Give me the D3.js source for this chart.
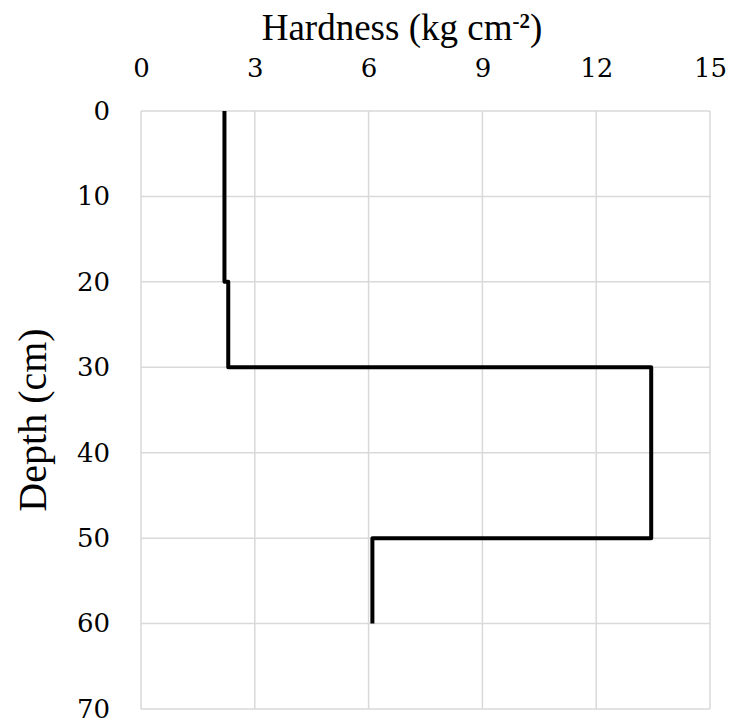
<!DOCTYPE html>
<html lang="en">
  <head>
    <meta charset="UTF-8" />
    <script src="https://d3js.org/d3.v7.min.js"></script>
    <title>Hardness vs Depth</title>
    <style type="text/css">
      body { margin: 0; background: #fff; }
      .tick text { font-family: 'DejaVu Serif', serif; font-size: 26px; fill: #000; }
      .ttl { font-family: 'Liberation Serif', 'Times New Roman', serif; fill: #000; }
    </style>
  </head>
  <body>
    <svg width="731" height="723"></svg>
  </body>
  <script type="text/javascript">
    // data: hardness profile (step line)
    const hardness = [2.2, 2.2, 2.3, 2.3, 13.45, 13.45, 6.1, 6.1];
    const depth = [0, 20, 20, 30, 30, 50, 50, 60];
    const xTicks = [0, 3, 6, 9, 12, 15];
    const yTicks = [0, 10, 20, 30, 40, 50, 60, 70];

    const svg = d3.select('svg');
    const margin = { top: 111, right: 21, bottom: 14, left: 141 };
    const width = +svg.attr('width') - margin.left - margin.right;
    const height = +svg.attr('height') - margin.top - margin.bottom;

    const xScale = d3.scaleLinear().domain([0, 15]).range([0, width]);
    const yScale = d3.scaleLinear().domain([0, 70]).range([0, height]);

    const g = svg.append('g').attr('transform', `translate(${margin.left}, ${margin.top})`);

    // gridlines
    g.append('g')
      .selectAll('line')
      .data(xTicks)
      .join('line')
      .attr('x1', (d) => xScale(d))
      .attr('x2', (d) => xScale(d))
      .attr('y1', 0)
      .attr('y2', height)
      .attr('stroke', '#d9d9d9')
      .attr('stroke-width', 1.5);

    g.append('g')
      .selectAll('line')
      .data(yTicks)
      .join('line')
      .attr('x1', 0)
      .attr('x2', width)
      .attr('y1', (d) => yScale(d))
      .attr('y2', (d) => yScale(d))
      .attr('stroke', '#d9d9d9')
      .attr('stroke-width', 1.5);

    // axes (labels only)
    const xAxis = g.append('g')
      .call(d3.axisTop(xScale).tickValues(xTicks).tickSize(0).tickPadding(34));
    const yAxis = g.append('g')
      .call(d3.axisLeft(yScale).tickValues(yTicks).tickSize(0).tickPadding(31));
    [xAxis, yAxis].forEach((a) => {
      a.select('.domain').remove();
      a.attr('font-family', null).attr('font-size', null);
    });

    // step line
    const pts = hardness.map((h, i) => [h, depth[i]]);
    g.append('path')
      .datum(pts)
      .attr('fill', 'none')
      .attr('stroke', '#000')
      .attr('stroke-width', 4)
      .attr('stroke-linejoin', 'round')
      .attr('d', d3.line().x((d) => xScale(d[0])).y((d) => yScale(d[1])));

    // titles
    const title = svg.append('text')
      .attr('class', 'ttl')
      .attr('x', 402)
      .attr('y', 40)
      .attr('text-anchor', 'middle')
      .style('font-size', '37px');
    title.append('tspan').text('Hardness (kg cm');
    title.append('tspan').attr('dy', -12).style('font-size', '21px').style('font-weight', 'bold').text('-2');
    title.append('tspan').attr('dy', 12).text(')');

    svg.append('text')
      .attr('class', 'ttl')
      .attr('transform', 'translate(46, 420) rotate(-90)')
      .attr('text-anchor', 'middle')
      .style('font-size', '40px')
      .text('Depth (cm)');
  </script>
</html>
